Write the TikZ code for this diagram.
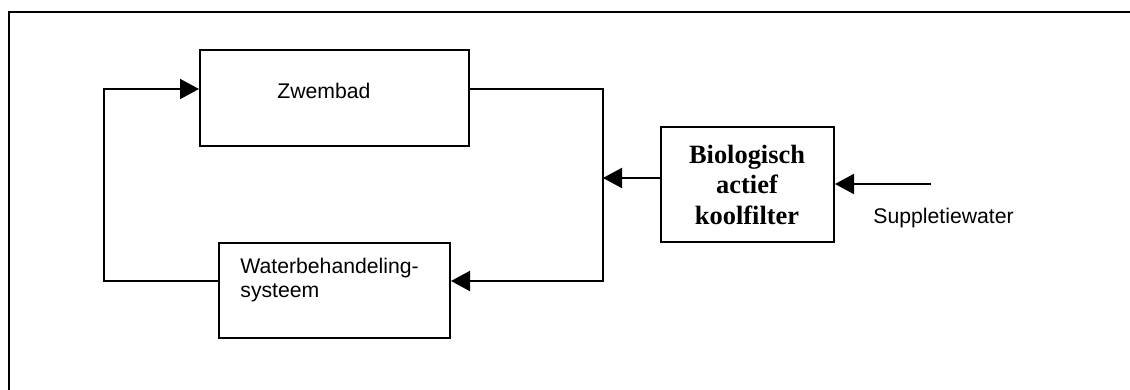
\documentclass[tikz,border=0pt]{standalone}
\usepackage{fontspec}
\setmainfont{Liberation Serif}
\setsansfont{Liberation Sans}
\usepackage{tikz}
\usetikzlibrary{
  arrows.meta,
  positioning,
  calc
}
\definecolor{zwLine}{HTML}{000000}
\tikzset{
  zwbox/.style={
    draw=zwLine, line width=1pt, fill=white, inner sep=0pt
  },
  zwtext/.style={font=\sffamily\fontsize{10.6}{11.6}\selectfont, inner sep=0pt, align=left},
  biotext/.style={font=\rmfamily\bfseries\fontsize{13.2}{15.25}\selectfont, inner sep=0pt, align=center},
  frameline/.style={line width=1pt, zwLine},
  pipe/.style={line width=1pt, zwLine},
  flow/.style={pipe, -{Triangle[length=9.5pt, width=10pt]}}
}
\begin{document}
\begin{tikzpicture}[x=0.5pt, y=-0.5pt]
  \useasboundingbox (0,0) rectangle (1130,390);
  % frame
  \draw[frameline] (9,390) -- (9,12) -- (1130,12);
  % boxes
  \node[zwbox, minimum width=134.5pt, minimum height=48pt] (zwembad) at (334.5,98) {};
  \node[zwbox, minimum width=115.5pt, minimum height=47.5pt] (wbs) at (334.5,290.5) {};
  \node[zwbox, minimum width=86.5pt, minimum height=57.5pt] (bio) at (747.5,184.5) {};
  % texts (base = last line)
  \node[zwtext, anchor=base west] (zwembadtxt) at (277,99) {Zwembad};
  \node[zwtext, anchor=base west] (wbstxt) at (240,297) {Waterbehandeling-\\systeem};
  \node[biotext, anchor=base] (biotxt) at (747,224) {Biologisch\\actief\\koolfilter};
  \node[zwtext, anchor=base west] (suptxt) at (873,223) {Suppletiewater};
  % loop
  \coordinate (rtop) at (603,89);
  \coordinate (rbot) at (603,281);
  \coordinate (ltop) at (104,89);
  \coordinate (lbot) at (104,281);
  \coordinate (join) at (603,178);
  \coordinate (sup) at (931,184);
  \draw[flow] (zwembad.east |- rtop) -- (rtop) -- (rbot) -- (rbot -| wbs.east);
  \draw[flow] (wbs.west |- lbot) -- (lbot) -- (ltop) -- (ltop -| zwembad.west);
  \draw[flow] (join -| bio.west) -- (join);
  \draw[flow] (sup) -- (sup -| bio.east);
\end{tikzpicture}
\end{document}
